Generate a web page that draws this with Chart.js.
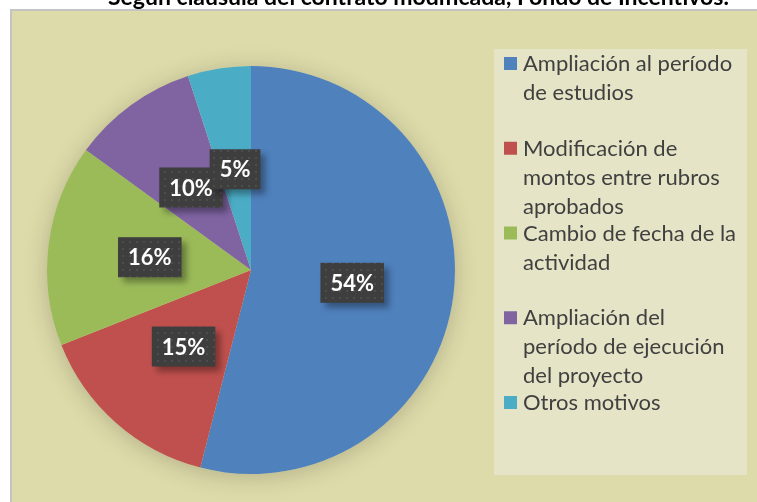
<!DOCTYPE html>
<html>
<head>
<meta charset="utf-8">
<script src="https://cdn.jsdelivr.net/npm/chart.js@4.4.0/dist/chart.umd.min.js"></script>
<style>
    body { margin: 0; background: #fff; }
    #wrap { width: 757px; height: 502px; }
</style>
</head>
<body>
<div id="wrap"><canvas id="pie-chart" width="757" height="502"></canvas></div>
<script>
var chartTitle = 'Según cláusula del contrato modificada, Fondo de Incentivos.';
// legend labels, already split the way the original wraps them
var categories = [
    ['Ampliación al período', 'de estudios'],
    ['Modificación de', 'montos entre rubros', 'aprobados'],
    ['Cambio de fecha de la', 'actividad'],
    ['Ampliación del', 'período de ejecución', 'del proyecto'],
    ['Otros motivos']
];
var percents = [54, 15, 16, 10, 5];
var sliceColors = ['#4F81BD', '#C0504D', '#9BBB59', '#8064A2', '#4BACC6'];

// dotted dark fill for the data label boxes
var dots = document.createElement('canvas');
dots.width = 7; dots.height = 7;
var dctx = dots.getContext('2d');
dctx.fillStyle = '#3e3e3e'; dctx.fillRect(0, 0, 7, 7);
dctx.fillStyle = '#4d4d4d'; dctx.fillRect(3, 3, 2, 2);

var backdrop = {
    id: 'backdrop',
    beforeDraw: function (chart) {
        var ctx = chart.ctx;
        ctx.save();
        ctx.fillStyle = '#fff';
        ctx.fillRect(0, 0, chart.width, chart.height);
        ctx.fillStyle = '#C4C4C4';
        ctx.fillRect(10, 9, chart.width, chart.height);
        ctx.fillStyle = '#DEDBAA';
        ctx.fillRect(12, 11, chart.width, chart.height);
        ctx.fillStyle = '#E6E4C6';
        ctx.fillRect(494, 49, 253, 426);

        ctx.fillStyle = '#000';
        ctx.font = 'bold 23px Lato';
        ctx.textAlign = 'left';
        ctx.textBaseline = 'alphabetic';
        ctx.fillText(chartTitle, 108, 5);

        ctx.font = '22px Lato';
        for (var i = 0; i < categories.length; i++) {
            var base = 71 + i * 84.75;
            ctx.fillStyle = sliceColors[i];
            ctx.fillRect(504, base - 14, 13, 13);
            ctx.fillStyle = '#404040';
            for (var j = 0; j < categories[i].length; j++) {
                ctx.fillText(categories[i][j], 523, base + j * 29);
            }
        }
        ctx.restore();
    },
    beforeDatasetsDraw: function (chart) {
        var ctx = chart.ctx;
        var arc = chart.getDatasetMeta(0).data[0];
        if (!arc) return;
        var p = arc.getProps(['x', 'y', 'outerRadius'], true);
        ctx.save();
        ctx.shadowColor = 'rgba(0,0,0,0.2)';
        ctx.shadowBlur = 24;
        ctx.shadowOffsetY = 3;
        ctx.fillStyle = '#DEDBAA';
        ctx.beginPath();
        ctx.arc(p.x, p.y, p.outerRadius, 0, Math.PI * 2);
        ctx.fill();
        ctx.restore();
    },
    afterDatasetsDraw: function (chart) {
        var ctx = chart.ctx;
        var pattern = ctx.createPattern(dots, 'repeat');
        chart.getDatasetMeta(0).data.forEach(function (arc, i) {
            var p = arc.getProps(['x', 'y', 'startAngle', 'endAngle', 'outerRadius'], true);
            var mid = (p.startAngle + p.endAngle) / 2;
            var lx = p.x + Math.cos(mid) * p.outerRadius * 0.5;
            var ly = p.y + Math.sin(mid) * p.outerRadius * 0.5;
            var txt = percents[i] + '%';
            ctx.save();
            ctx.font = 'bold 22px Lato';
            var w = ctx.measureText(txt).width + 20, h = 40;
            ctx.shadowColor = 'rgba(0,0,0,0.35)';
            ctx.shadowBlur = 6;
            ctx.shadowOffsetX = 5;
            ctx.shadowOffsetY = 5;
            ctx.fillStyle = pattern;
            ctx.fillRect(lx - w / 2, ly - h / 2, w, h);
            ctx.restore();
            ctx.save();
            ctx.font = 'bold 22px Lato';
            ctx.fillStyle = '#fff';
            ctx.textAlign = 'center';
            ctx.textBaseline = 'middle';
            ctx.fillText(txt, lx, ly + 1);
            ctx.restore();
        });
    }
};

function drawChart() {
    new Chart(document.getElementById('pie-chart'), {
        type: 'pie',
        data: {
            labels: categories,
            datasets: [
                {
                    backgroundColor: sliceColors,
                    borderWidth: 0,
                    data: percents
                }
            ]
        },
        options: {
            responsive: false,
            animation: false,
            events: [],
            layout: { padding: { left: 47, right: 302, top: 66, bottom: 28 } },
            plugins: {
                legend: { display: false },
                title: { display: false },
                tooltip: { enabled: false }
            }
        },
        plugins: [backdrop]
    });
}

if (document.fonts && document.fonts.load) {
    Promise.all([document.fonts.load('22px Lato'), document.fonts.load('bold 23px Lato')])
        .then(drawChart, drawChart);
} else {
    drawChart();
}
</script>
</body>
</html>
